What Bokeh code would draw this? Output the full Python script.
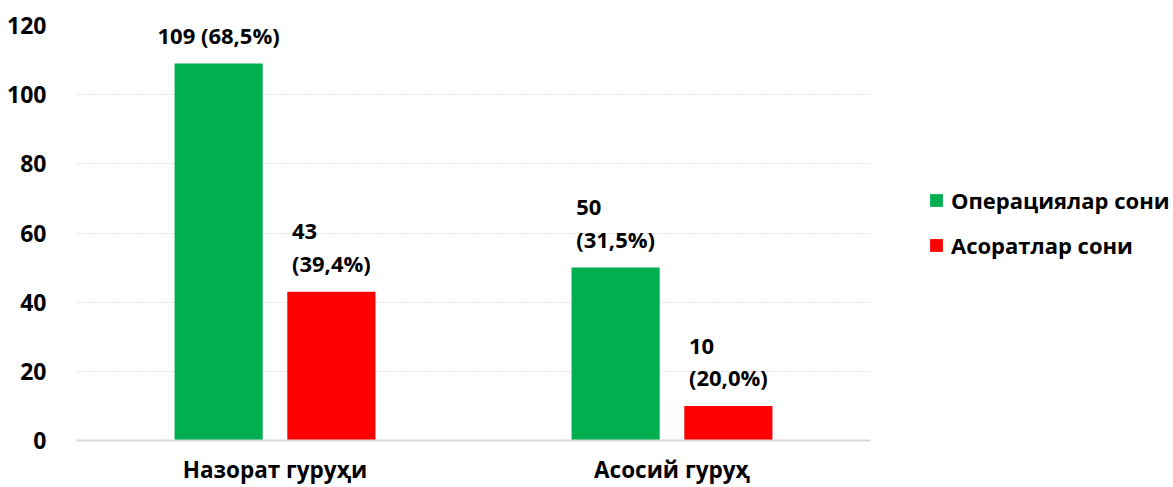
from bokeh.plotting import figure
from bokeh.models import (ColumnDataSource, FactorRange, Range1d, FixedTicker,
                          LabelSet, Legend, LegendItem)
from bokeh.layouts import row
from bokeh.transform import dodge
from bokeh.core.properties import value
from bokeh.embed import file_html
from bokeh.resources import INLINE

categories = ["Назорат гуруҳи", "Асосий гуруҳ"]
operations = [109, 50]
complications = [43, 10]
operations_pct = ["68,5", "31,5"]
complications_pct = ["39,4", "20,0"]
operations_sep = [" ", "\n"]
complications_sep = ["\n", "\n"]
series_names = ["Операциялар сони", "Асоратлар сони"]
y_ticks = [0, 20, 40, 60, 80, 100, 120]

FONT = "Open Sans"
GREEN = "#00B050"
RED = "#FF0000"

src = ColumnDataSource(dict(
    cat=categories,
    ops=operations,
    comp=complications,
    ops_lbl=[f"{v}{s}({p}%)" for v, s, p in zip(operations, operations_sep, operations_pct)],
    comp_lbl=[f"{v}{s}({p}%)" for v, s, p in zip(complications, complications_sep, complications_pct)],
))

p = figure(width=870, height=487, x_range=FactorRange(*categories, range_padding=0),
           y_range=Range1d(0, 120), output_backend="svg", toolbar_location=None,
           min_border_left=76, min_border_right=0, min_border_top=25, min_border_bottom=47)
p.outline_line_color = None
p.background_fill_color = "white"

off = 0.142
bw = 0.222
r1 = p.vbar(x=dodge("cat", -off, range=p.x_range), top="ops", width=bw, source=src,
            fill_color=GREEN, line_color=None)
r2 = p.vbar(x=dodge("cat", off, range=p.x_range), top="comp", width=bw, source=src,
            fill_color=RED, line_color=None)

for xo, col in [(-off, "ops"), (off, "comp")]:
    lab = LabelSet(x=dodge("cat", xo, range=p.x_range), y=col, text=col + "_lbl", source=src,
                   text_align="center", text_baseline="bottom", y_offset=14,
                   text_font=value(FONT), text_font_style="bold", text_font_size="22px",
                   text_color="black", text_line_height=1.08)
    p.add_layout(lab)

p.xgrid.grid_line_color = None
p.ygrid.grid_line_color = "#c8c8c8"
p.ygrid.grid_line_dash = "1 2"
p.ygrid.grid_line_width = 1

p.yaxis.ticker = FixedTicker(ticks=y_ticks)
p.yaxis.axis_line_color = None
p.yaxis.major_tick_line_color = None
p.yaxis.minor_tick_line_color = None
p.yaxis.major_label_text_font = FONT
p.yaxis.major_label_text_font_style = "bold"
p.yaxis.major_label_text_font_size = "23px"
p.yaxis.major_label_text_color = "black"
p.yaxis.major_label_standoff = 24

p.xaxis.axis_line_color = "#d9d9d9"
p.xaxis.axis_line_width = 2
p.xaxis.major_tick_line_color = None
p.xaxis.minor_tick_line_color = None
p.xaxis.major_label_text_font = FONT
p.xaxis.major_label_text_font_style = "bold"
p.xaxis.major_label_text_font_size = "22.5px"
p.xaxis.major_label_text_color = "black"
p.xaxis.major_label_standoff = 7

# legend panel (separate figure to the right of the chart); its bars lie outside its view
lg = figure(width=303, height=487, x_range=Range1d(-1, 0), y_range=Range1d(-1, 0),
            x_axis_type=None, y_axis_type=None, output_backend="svg", toolbar_location=None,
            min_border=0)
lg.outline_line_color = None
lg.grid.visible = False
e1 = lg.vbar(x="ops", top="ops", bottom="ops", width=0.1, source=src,
             fill_color=GREEN, line_color=None)
e2 = lg.vbar(x="comp", top="comp", bottom="comp", width=0.1, source=src,
             fill_color=RED, line_color=None)

legend = Legend(items=[LegendItem(label=series_names[0], renderers=[e1]),
                       LegendItem(label=series_names[1], renderers=[e2])],
                location=(58, 180), orientation="vertical",
                glyph_width=16, glyph_height=16, label_standoff=7, spacing=15,
                padding=0, margin=0, border_line_color=None, background_fill_alpha=0,
                label_text_font=FONT, label_text_font_style="bold",
                label_text_font_size="22px", label_text_color="black")
lg.add_layout(legend)

layout = row(p, lg, spacing=0)
open("out.html", "w").write(file_html(layout, INLINE))
